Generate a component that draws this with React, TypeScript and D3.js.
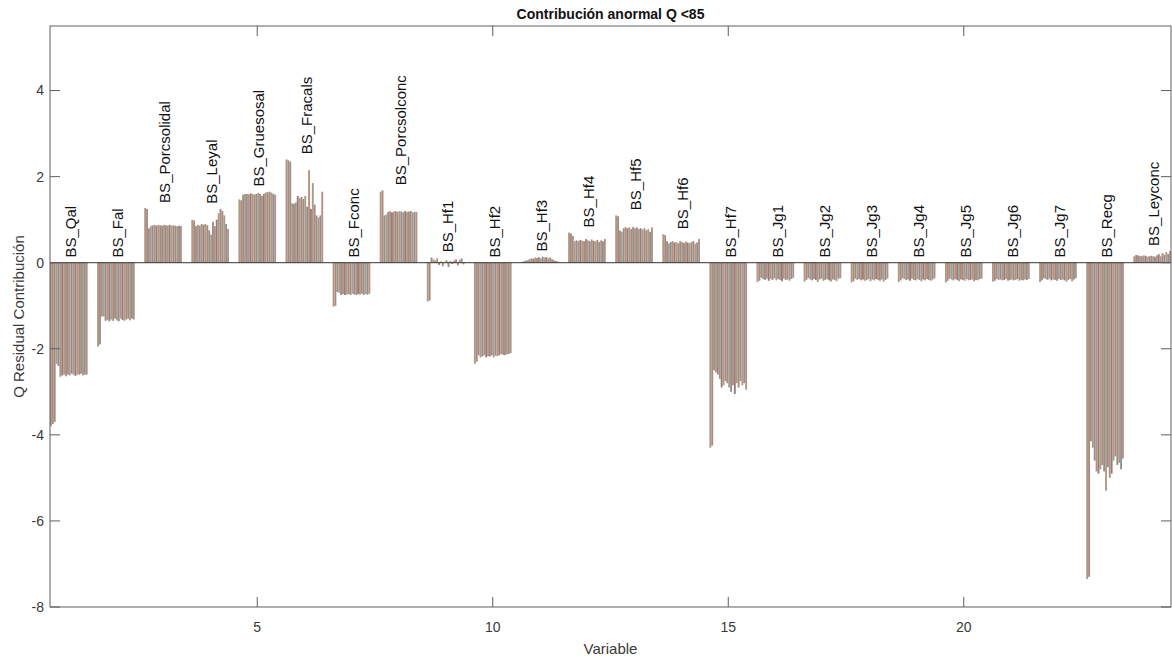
import React from "react";
import * as d3 from "d3";

// Variable names, one group of bars per variable (1..24)
const variableNames = [
  "BS_Qal", "BS_Fal", "BS_Porcsolidal", "BS_Leyal", "BS_Gruesosal", "BS_Fracals",
  "BS_Fconc", "BS_Porcsolconc", "BS_Hf1", "BS_Hf2", "BS_Hf3", "BS_Hf4", "BS_Hf5",
  "BS_Hf6", "BS_Hf7", "BS_Jg1", "BS_Jg2", "BS_Jg3", "BS_Jg4", "BS_Jg5", "BS_Jg6",
  "BS_Jg7", "BS_Recg", "BS_Leyconc",
];

// Residual contribution of each abnormal observation, per variable
const qal = [-3.8, -3.75, -3.7, -2.35, -2.4, -2.65, -2.62, -2.6, -2.64, -2.6, -2.62, -2.58, -2.6, -2.63, -2.6, -2.6, -2.58, -2.62, -2.6, -2.6];
const fal = [-1.95, -1.9, -1.25, -1.25, -1.35, -1.33, -1.36, -1.32, -1.35, -1.3, -1.34, -1.36, -1.3, -1.33, -1.35, -1.32, -1.3, -1.34, -1.3, -1.32];
const porcsolidal = [1.27, 1.25, 0.8, 0.85, 0.87, 0.88, 0.86, 0.88, 0.87, 0.86, 0.88, 0.87, 0.86, 0.88, 0.86, 0.87, 0.86, 0.85, 0.86, 0.85];
const leyal = [1.0, 0.98, 0.85, 0.88, 0.86, 0.9, 0.88, 0.9, 0.87, 0.75, 0.65, 0.95, 0.85, 1.0, 1.15, 1.25, 1.2, 1.1, 0.9, 0.78];
const gruesosal = [1.47, 1.45, 1.58, 1.6, 1.6, 1.59, 1.61, 1.6, 1.58, 1.6, 1.62, 1.6, 1.55, 1.6, 1.63, 1.64, 1.65, 1.63, 1.6, 1.58];
const fracals = [2.4, 2.38, 2.35, 1.38, 1.37, 1.4, 1.55, 1.5, 1.53, 1.48, 1.55, 1.3, 2.15, 1.25, 1.85, 1.35, 1.1, 1.05, 1.1, 1.65];
const fconc = [-1.02, -1.0, -0.68, -0.7, -0.75, -0.73, -0.75, -0.74, -0.73, -0.75, -0.72, -0.74, -0.75, -0.73, -0.74, -0.72, -0.75, -0.73, -0.74, -0.72];
const porcsolconc = [1.65, 1.68, 1.1, 1.12, 1.18, 1.2, 1.17, 1.19, 1.2, 1.18, 1.2, 1.19, 1.17, 1.2, 1.18, 1.19, 1.2, 1.17, 1.18, 1.18];
const hf1 = [-0.9, -0.88, 0.12, 0.08, 0.05, 0.1, -0.05, 0.03, -0.08, 0.02, 0.06, -0.1, 0.04, -0.03, 0.05, 0.08, -0.06, 0.07, 0.1, -0.04];
const hf2 = [-2.35, -2.3, -2.15, -2.2, -2.18, -2.15, -2.2, -2.17, -2.18, -2.15, -2.2, -2.16, -2.17, -2.15, -2.12, -2.14, -2.15, -2.13, -2.12, -2.1];
const hf3 = [0.02, 0.03, 0.05, 0.06, 0.08, 0.1, 0.09, 0.12, 0.11, 0.13, 0.1, 0.14, 0.12, 0.13, 0.1, 0.12, 0.08, 0.06, 0.04, 0.03];
const hf4 = [0.7, 0.68, 0.62, 0.5, 0.52, 0.5, 0.53, 0.51, 0.5, 0.55, 0.52, 0.5, 0.54, 0.51, 0.5, 0.53, 0.48, 0.52, 0.5, 0.55];
const hf5 = [1.1, 1.08, 0.75, 0.72, 0.8, 0.83, 0.8, 0.82, 0.78, 0.83, 0.8, 0.82, 0.78, 0.8, 0.77, 0.8, 0.75, 0.78, 0.72, 0.82];
const hf6 = [0.66, 0.64, 0.5, 0.45, 0.48, 0.5, 0.47, 0.48, 0.45, 0.5, 0.48, 0.46, 0.49, 0.47, 0.45, 0.48, 0.5, 0.44, 0.47, 0.55];
const hf7 = [-4.3, -4.25, -2.5, -2.55, -2.6, -2.7, -2.9, -2.85, -2.75, -2.8, -2.9, -3.0, -2.85, -3.05, -2.8, -2.9, -2.75, -2.85, -2.8, -2.95];
const jg1 = [-0.45, -0.42, -0.35, -0.38, -0.4, -0.37, -0.42, -0.38, -0.4, -0.36, -0.41, -0.38, -0.4, -0.43, -0.37, -0.4, -0.39, -0.42, -0.38, -0.35];
const jg2 = [-0.44, -0.4, -0.36, -0.39, -0.41, -0.38, -0.4, -0.45, -0.39, -0.37, -0.42, -0.4, -0.38, -0.41, -0.44, -0.39, -0.4, -0.43, -0.37, -0.36];
const jg3 = [-0.46, -0.43, -0.37, -0.4, -0.38, -0.41, -0.39, -0.42, -0.4, -0.38, -0.43, -0.39, -0.41, -0.38, -0.4, -0.42, -0.39, -0.44, -0.4, -0.37];
const jg4 = [-0.45, -0.41, -0.36, -0.38, -0.4, -0.39, -0.42, -0.37, -0.4, -0.41, -0.38, -0.4, -0.43, -0.39, -0.41, -0.38, -0.4, -0.42, -0.39, -0.36];
const jg5 = [-0.46, -0.42, -0.37, -0.39, -0.41, -0.38, -0.4, -0.43, -0.39, -0.4, -0.42, -0.38, -0.41, -0.4, -0.39, -0.43, -0.4, -0.41, -0.38, -0.37];
const jg6 = [-0.44, -0.42, -0.38, -0.4, -0.39, -0.41, -0.4, -0.38, -0.42, -0.4, -0.39, -0.41, -0.4, -0.38, -0.42, -0.4, -0.41, -0.39, -0.4, -0.38];
const jg7 = [-0.45, -0.41, -0.36, -0.38, -0.4, -0.37, -0.41, -0.39, -0.4, -0.42, -0.38, -0.4, -0.39, -0.41, -0.44, -0.4, -0.38, -0.43, -0.39, -0.36];
const recg = [-7.35, -7.3, -4.15, -4.3, -4.6, -4.85, -4.9, -4.8, -4.7, -4.85, -5.3, -4.75, -5.0, -4.9, -4.6, -4.5, -4.7, -4.65, -4.8, -4.55];
const leyconc = [0.15, 0.18, 0.17, 0.16, 0.15, 0.17, 0.16, 0.14, 0.15, 0.16, 0.15, 0.14, 0.17, 0.2, 0.15, 0.22, 0.18, 0.25, 0.2, 0.27];

const contributions = [
  qal, fal, porcsolidal, leyal, gruesosal, fracals, fconc, porcsolconc,
  hf1, hf2, hf3, hf4, hf5, hf6, hf7, jg1, jg2, jg3, jg4, jg5, jg6, jg7, recg, leyconc,
];

const yTicks = [-8, -6, -4, -2, 0, 2, 4];
const xTicks = [5, 10, 15, 20];

// Muted series colours (thin bars with dark edges blend to these tones)
const seriesColors = ["#a59c8a", "#b2877a", "#9c8f86", "#ae9a86", "#8f9092", "#b8907e", "#977c7a"];

const W = 1172;
const H = 661;
const left = 50;
const right = 1171;
const top = 26;
const bottom = 607;
const groupWidth = 0.8;
const font = "'Liberation Sans', Arial, Helvetica, sans-serif";

export default function App() {
  const x = d3.scaleLinear().domain([0.6, 24.4]).range([left, right]);
  const y = d3.scaleLinear().domain([-8, 5.5]).range([bottom, top]);
  const axisColor = "#5e5e5e";
  const textColor = "#3a3a3a";
  const tickLen = 10;

  const bars: React.ReactNode[] = [];
  contributions.forEach((vals, gi) => {
    const center = gi + 1;
    const n = vals.length;
    const slot = groupWidth / n;
    vals.forEach((v, si) => {
      const x0 = x(center - groupWidth / 2 + si * slot);
      const x1 = x(center - groupWidth / 2 + (si + 1) * slot);
      const yTop = y(Math.max(0, v));
      const yBot = y(Math.min(0, v));
      bars.push(
        <rect
          key={`b${gi}-${si}`}
          x={x0}
          y={yTop}
          width={x1 - x0}
          height={yBot - yTop}
          fill={seriesColors[si % seriesColors.length]}
        />
      );
    });
  });

  // Variable name above the bars (or above the baseline for negative groups)
  const labels = contributions.map((vals, gi) => {
    const m = Math.max(0, d3.max(vals) as number);
    const lx = x(gi + 1) + 2;
    const ly = y(m + 0.12);
    return (
      <text
        key={`l${gi}`}
        transform={`translate(${lx},${ly}) rotate(-90)`}
        dy="0.35em"
        fontSize={15}
        fill="#111"
        fontFamily={font}
      >
        {variableNames[gi]}
      </text>
    );
  });

  return (
    <svg
      width={W}
      height={H}
      style={{ position: "absolute", left: 0, top: 0, background: "#fff" }}
    >
      <rect x={0} y={0} width={W} height={H} fill="#fff" />
      <g>{bars}</g>
      {/* bar baseline */}
      <line x1={left} x2={right} y1={y(0)} y2={y(0)} stroke="#333" strokeWidth={1} />
      {/* axes box */}
      <rect x={left} y={top} width={right - left} height={bottom - top} fill="none" stroke={axisColor} strokeWidth={1} />
      {yTicks.map((t) => (
        <g key={`yt${t}`}>
          <line x1={left} x2={left + tickLen} y1={y(t)} y2={y(t)} stroke={axisColor} />
          <line x1={right} x2={right - tickLen} y1={y(t)} y2={y(t)} stroke={axisColor} />
          <text x={left - 6} y={y(t)} dy="0.35em" textAnchor="end" fontSize={14} fill={textColor} fontFamily={font}>
            {t}
          </text>
        </g>
      ))}
      {xTicks.map((t) => (
        <g key={`xt${t}`}>
          <line x1={x(t)} x2={x(t)} y1={bottom} y2={bottom - tickLen} stroke={axisColor} />
          <line x1={x(t)} x2={x(t)} y1={top} y2={top + tickLen} stroke={axisColor} />
          <text x={x(t)} y={bottom + 25} textAnchor="middle" fontSize={14} fill={textColor} fontFamily={font}>
            {t}
          </text>
        </g>
      ))}
      {labels}
      <text x={(left + right) / 2} y={19} textAnchor="middle" fontSize={14} fontWeight="bold" fill="#111" fontFamily={font}>
        Contribución anormal Q &lt;85
      </text>
      <text x={(left + right) / 2} y={654} textAnchor="middle" fontSize={15} fill={textColor} fontFamily={font}>
        Variable
      </text>
      <text
        transform={`translate(24,${(top + bottom) / 2}) rotate(-90)`}
        textAnchor="middle"
        fontSize={15}
        fill={textColor}
        fontFamily={font}
      >
        Q Residual Contribución
      </text>
    </svg>
  );
}
